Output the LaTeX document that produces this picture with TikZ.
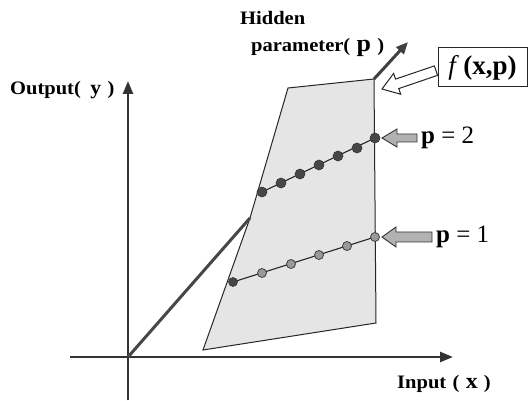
\documentclass[tikz,border=0pt]{standalone}
\usepackage{fontspec}
\setmainfont{Liberation Serif}
\newfontfamily\labfont[FakeStretch=1.08]{Liberation Serif}
\usetikzlibrary{arrows.meta}
\begin{document}
\begin{tikzpicture}[x=1pt,y=-1pt,
  axis/.style={line width=2.6pt,draw=black!80,-{Triangle[length=13pt,width=10pt]}},
  thickline/.style={line width=3pt,draw=black!72},
  plane/.style={draw=black!85,line width=1pt,fill=black!10},
  curve/.style={draw=black!85,line width=1.1pt},
  darkdot/.style={circle,fill=black!72,draw=black!80,line width=0.6pt,inner sep=0pt,minimum size=10pt},
  lightdot/.style={circle,fill=black!40,draw=black!75,line width=0.8pt,inner sep=0pt,minimum size=9pt},
  lab/.style={font=\labfont\bfseries\fontsize{19}{21}\selectfont,inner sep=0pt,anchor=west},
  plab/.style={font=\fontsize{25}{28}\selectfont,inner sep=0pt,anchor=west},
  blockarr/.style={draw=black!80,line width=0.9pt,fill=black!30},
  whitearr/.style={draw=black!85,line width=1pt,fill=white}]
\useasboundingbox (0,0) rectangle (531,401);
% named points
\coordinate (O) at (128,357);
\coordinate (xs) at (70,357);
\coordinate (xe) at (453,357);
\coordinate (ys) at (128,400);
\coordinate (ye) at (128,81);
\coordinate (TL) at (288,88);
\coordinate (TR) at (374,79);
\coordinate (BR) at (376,323);
\coordinate (BL) at (203,350);
\coordinate (K) at (250,218);
\coordinate (H) at (408,42);
% plane
\draw[plane] (TL) -- (TR) -- (BR) -- (BL) -- (K) -- cycle;
% axes
\draw[axis] (xs) -- (xe);
\draw[axis] (ys) -- (ye);
% thick line from origin
\draw[thickline] (O) -- (K);
\draw[line width=3pt,draw=black!75,-{Triangle[length=12pt,width=10pt]}] (TR) -- (H);
% p=2 curve
\foreach \i/\x/\y in {1/262/192,2/281/183,3/300/174,4/319/165,5/338/156,6/357/148,7/375/138}
  \coordinate (a\i) at (\x,\y);
\draw[curve] (a1) -- (a7);
\foreach \i in {1,...,7} \node[darkdot] (da\i) at (a\i) {};
% p=1 curve
\foreach \i/\x/\y in {1/233/282,2/262/273,3/291/264,4/319/255,5/347/246,6/375/237}
  \coordinate (b\i) at (\x,\y);
\draw[curve] (b1) -- (b6);
\foreach \i in {2,...,6} \node[lightdot] (db\i) at (b\i) {};
\node[darkdot,minimum size=9pt] (db1) at (b1) {};
% block arrows
\draw[blockarr] (382,138) -- (397,129) -- (397,134) -- (417,134) -- (417,142) -- (397,142) -- (397,147) -- cycle;
\draw[blockarr] (382,237) -- (396,227) -- (396,232) -- (432,232) -- (432,242) -- (396,242) -- (396,247) -- cycle;
\begin{scope}[shift={(382,89)},rotate=18.8]
  \draw[whitearr] (0,0) -- (16,-11) -- (16,-5) -- (57,-5) -- (57,5) -- (16,5) -- (16,11) -- cycle;
\end{scope}
% labels
\node[plab] (p2) at (421,138) {\textbf{p} = 2};
\node[plab] (p1) at (436,237) {\textbf{p} = 1};
\node[draw=black!85,line width=1pt,minimum width=89pt,minimum height=39pt,inner sep=0pt,
  font=\fontsize{27}{29}\selectfont] (f) at (482.5,67.5) {\textit{f}\,\textbf{(x,p)}};
\node[lab] (hid) at (240,18) {Hidden};
\node[lab] (par) at (251,47) {parameter(\,\,{\fontsize{24}{26}\selectfont p}\,\,)};
\node[lab] (out) at (10,90) {Output(\,\,\,{\fontsize{20}{22}\selectfont y}\,\,)};
\node[lab] (inp) at (397,384) {Input\,\,(\,\,{\fontsize{22}{24}\selectfont x}\,\,)};
\end{tikzpicture}
\end{document}
